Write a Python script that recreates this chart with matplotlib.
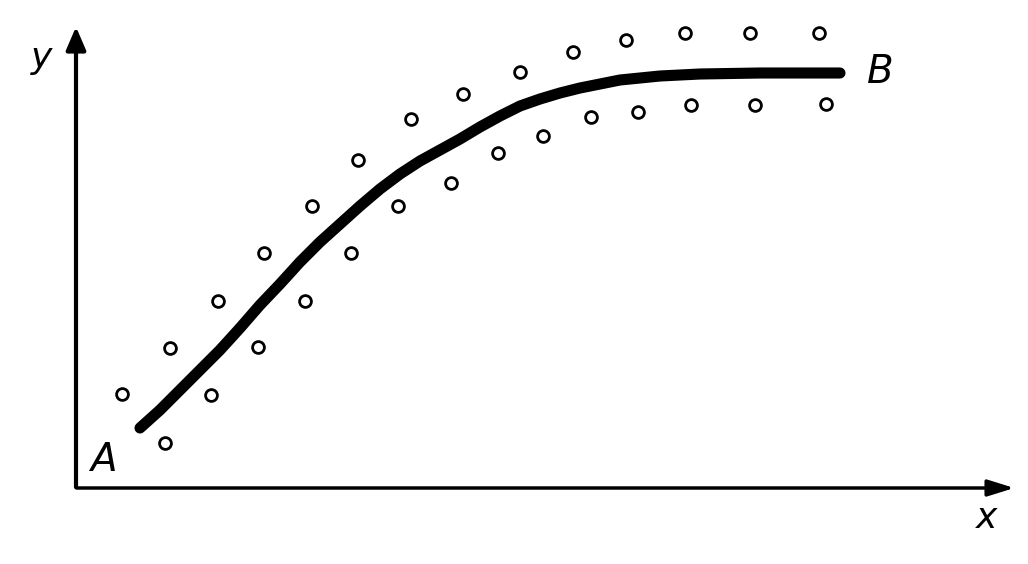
import matplotlib
matplotlib.use('Agg')

import matplotlib.pyplot as plt

# curve A -> B (image units, y downward)
curve_x = [140, 160, 180, 200, 220, 240, 260, 280, 300, 320, 340, 360, 380, 400, 420, 440,
           460, 480, 500, 520, 540, 560, 580, 600, 620, 640, 660, 680, 700, 760, 840]
curve_y = [428, 410, 390, 370, 350, 328, 305, 284, 262, 242, 224, 206, 189, 174, 161, 150,
           139, 127, 116, 106, 99, 93, 88, 84, 80, 78, 76, 75, 74, 73, 73]

# scattered points above the curve
upper_x = [122, 170, 218, 264, 312, 358, 411, 463, 520, 573, 626, 685, 750, 819]
upper_y = [394, 348, 301, 253, 206, 160, 119, 94, 72, 52, 40, 33, 33, 33]

# scattered points below the curve
lower_x = [165, 211, 258, 305, 351, 398, 451, 498, 543, 591, 638, 691, 755, 826]
lower_y = [443, 395, 347, 301, 253, 206, 183, 153, 136, 117, 112, 105, 105, 104]

fig = plt.figure(figsize=(10.28, 5.64), dpi=100)
ax = fig.add_axes([0, 0, 1, 1])
ax.set_xlim(0, 1028)
ax.set_ylim(564, 0)
ax.axis('off')

# axes with arrows
ax.annotate('', xy=(1017, 488), xytext=(74, 488),
            arrowprops=dict(arrowstyle='-|>,head_length=1.6,head_width=0.5', lw=2.5, color='black'))
ax.annotate('', xy=(76, 24), xytext=(76, 490),
            arrowprops=dict(arrowstyle='-|>,head_length=1.4,head_width=0.6', lw=3, color='black'))

ax.plot(curve_x, curve_y, color='black', lw=8, solid_capstyle='round', solid_joinstyle='round')

ax.plot(upper_x, upper_y, 'o', ms=8.5, mfc='white', mec='black', mew=2)
ax.plot(lower_x, lower_y, 'o', ms=8.5, mfc='white', mec='black', mew=2)

ax.text(42, 58, 'y', fontsize=26, style='italic', ha='center', va='center')
ax.text(103, 460, 'A', fontsize=28, style='italic', ha='center', va='center')
ax.text(880, 72, 'B', fontsize=28, style='italic', ha='center', va='center')
ax.text(987, 518, 'x', fontsize=26, style='italic', ha='center', va='center')

plt.savefig('out.png', dpi=100)
